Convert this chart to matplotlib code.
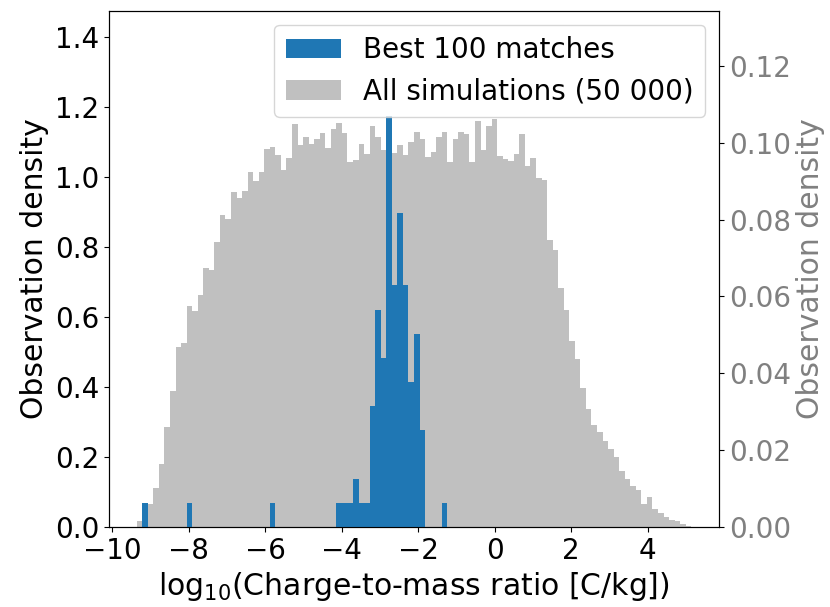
import numpy as np
import matplotlib
matplotlib.use('Agg')
import matplotlib.pyplot as plt
from matplotlib.ticker import MultipleLocator

# histogram range shared by both distributions (log10 charge-to-mass, C/kg)
bin_lo = -9.36
bin_hi = 5.14
n_bins = 100

# density of all 50 000 simulations, one value per bin
all_density = [
    0.0016, 0.0037, 0.0059, 0.0101, 0.0163, 0.0259, 0.0353, 0.0468, 0.0479, 0.0574,
    0.0563, 0.0605, 0.0675, 0.0669, 0.0741, 0.0811, 0.0802, 0.0872, 0.0857, 0.0874,
    0.0924, 0.0900, 0.0924, 0.0983, 0.0989, 0.0969, 0.0928, 0.0961, 0.1050, 0.0995,
    0.1015, 0.0997, 0.1010, 0.1026, 0.0987, 0.1037, 0.1052, 0.1026, 0.0950, 0.0954,
    0.0998, 0.0970, 0.1043, 0.1015, 0.0980, 0.0990, 0.0973, 0.0993, 0.0967, 0.1002,
    0.1028, 0.1011, 0.0963, 0.0976, 0.1015, 0.1028, 0.0950, 0.1011, 0.1028, 0.1024,
    0.0950, 0.1057, 0.0980, 0.1043, 0.1063, 0.0965, 0.0959, 0.0953, 0.0970, 0.1022,
    0.0939, 0.0961, 0.0909, 0.0902, 0.0746, 0.0720, 0.0622, 0.0566, 0.0483, 0.0437,
    0.0363, 0.0307, 0.0266, 0.0248, 0.0223, 0.0203, 0.0181, 0.0146, 0.0124, 0.0107,
    0.0096, 0.0059, 0.0079, 0.0046, 0.0036, 0.0026, 0.0017, 0.0016, 0.0009, 0.0003,
]

# best 100 matches: bin index -> number of matches
best_bins = [1, 9, 24, 36, 37, 38, 39, 40, 41, 42, 43, 44, 45, 46, 47, 48, 49, 50, 51, 55]
best_counts = [1, 1, 1, 1, 1, 1, 2, 1, 1, 5, 9, 7, 17, 10, 13, 10, 6, 8, 4, 1]

edges = np.linspace(bin_lo, bin_hi, n_bins + 1)
centers = 0.5 * (edges[:-1] + edges[1:])
counts = np.zeros(n_bins)
counts[best_bins] = best_counts

plt.rcParams['font.size'] = 20
plt.rcParams['axes.labelsize'] = 21.5

fig, ax = plt.subplots(figsize=(8.3, 6.07), dpi=100)
fig.subplots_adjust(left=109/830, right=719/830, bottom=80/607, top=596/607)
ax2 = ax.twinx()

ax2.hist(centers, bins=edges, weights=all_density, color='silver',
         label='All simulations (50 000)')
ax.hist(centers, bins=edges, weights=counts, density=True, color='C0',
        label='Best 100 matches')

# keep the best-match bars above the background distribution
ax.set_zorder(ax2.get_zorder() + 1)
ax.patch.set_visible(False)

ax.set_ylim(0, 1.473)
ax2.set_ylim(0, 0.1343)
ax.xaxis.set_major_locator(MultipleLocator(2))

ax.set_xlabel('log$_{10}$(Charge-to-mass ratio [C/kg])')
ax.set_ylabel('Observation density')
ax2.set_ylabel('Observation density', color='gray')
ax2.tick_params(axis='y', labelcolor='gray')

h1, l1 = ax.get_legend_handles_labels()
h2, l2 = ax2.get_legend_handles_labels()
ax.legend(h1 + h2, l1 + l2, loc='upper right')

fig.savefig('out.png', dpi=100)
